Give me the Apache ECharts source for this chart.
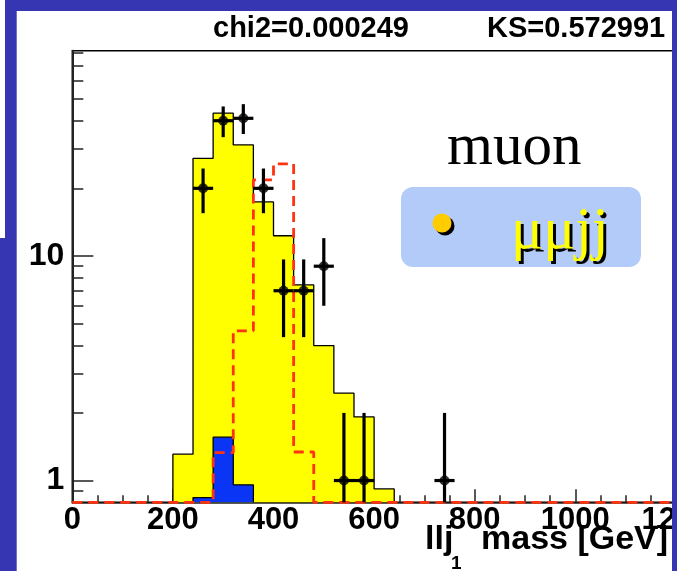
<!DOCTYPE html>
<html><head><meta charset="utf-8">
<script src="https://cdn.jsdelivr.net/npm/echarts@6/dist/echarts.min.js"></script>
<style>html,body{margin:0;padding:0;background:#3636b2;}#c{width:677px;height:571px;}</style>
</head><body><div id="c"></div>
<script>
// ---- data ----
const binEdges = [200, 240, 280, 320, 360, 400, 440, 480, 520, 560, 600, 640];
const yellowCounts = [1.31, 27.2, 43.2, 31.2, 17.4, 12.3, 7.43, 3.99, 2.45, 1.92, 0.918];
const blueEdges = [240, 280, 320, 360];
const blueCounts = [0.84, 1.56, 0.957];
const redEdges = [280, 320, 360, 400, 440, 480];
const redCounts = [1.33, 4.64, 21.8, 25.7, 1.34];
const dataX = [260, 300, 340, 380, 420, 460, 500, 540, 580, 740];
const dataY = [20, 40, 41, 20, 7, 7, 9, 1, 1, 1];
const dataHigh = [24.5, 46.3, 47.4, 24.5, 9.65, 9.65, 12, 2, 2, 2];
const dataLow = [15.5, 33.8, 34.9, 15.5, 4.35, 4.35, 6, 0.8, 0.8, 0.8];
const binHalfWidth = 20;
const yMajorTicks = [1, 10];
const yMinorTicks = [0.9, 2, 3, 4, 5, 6, 7, 8, 9, 20, 30, 40, 50, 60, 70, 80];
const Y_MIN = 0.8, Y_MAX = 82, X_MIN = 0, X_MAX = 1400, X_STEP = 200;

function stepPoints(edges, counts, floor, lead, tail) {
  const pts = [];
  if (lead !== undefined) pts.push([lead, floor]); else pts.push([edges[0], floor]);
  counts.forEach((c, i) => pts.push([edges[i], c]));
  pts.push([edges[edges.length - 1], counts[counts.length - 1]]);
  pts.push([edges[edges.length - 1], floor]);
  if (tail !== undefined) pts.push([tail, floor]);
  return pts;
}

const chart = echarts.init(document.getElementById('c'), null, {renderer: 'canvas'});
const font = 'Liberation Sans, Arial, sans-serif';
const serif = 'Liberation Serif, Times New Roman, serif';

const option = {
  backgroundColor: '#3636b2',
  animation: false,
  grid: {left: 72.3, top: 50.7, right: -99.5, height: 451.6, show: true,
         backgroundColor: '#ffffff', borderColor: '#000', borderWidth: 1.5,
         containLabel: false, outerBoundsMode: 'none'},
  xAxis: {
    type: 'value', min: X_MIN, max: X_MAX, interval: X_STEP,
    axisLine: {show: true, onZero: false, lineStyle: {color: '#222', width: 1.5}},
    axisTick: {show: true, inside: true, length: 13, lineStyle: {color: '#222', width: 1.5}},
    minorTick: {show: true, splitNumber: 4, length: 7, lineStyle: {color: '#222', width: 1.5}},
    axisLabel: {color: '#000', fontFamily: font, fontWeight: 'bold', fontSize: 31, margin: 3,
                formatter: v => String(v)},
    splitLine: {show: false}, minorSplitLine: {show: false}
  },
  yAxis: [{
    type: 'log', logBase: 10, min: Y_MIN, max: Y_MAX, position: 'left',
    axisLine: {show: true, lineStyle: {color: '#222', width: 2}},
    axisTick: {show: true, inside: true, length: 21, customValues: yMajorTicks, lineStyle: {color: '#222', width: 1.5}},
    axisLabel: {show: true, customValues: yMajorTicks, color: '#000', fontFamily: font, fontWeight: 'bold', fontSize: 32, margin: 8,
                formatter: v => String(v)},
    splitLine: {show: false}, minorTick: {show: false}
  }, {
    type: 'log', logBase: 10, min: Y_MIN, max: Y_MAX, position: 'left', offset: 0,
    axisLine: {show: false},
    axisTick: {show: true, inside: true, length: 11, customValues: yMinorTicks, lineStyle: {color: '#222', width: 1.5}},
    axisLabel: {show: false},
    splitLine: {show: false}
  }],
  series: [
    {type: 'line', name: 'yellow', step: 'end', showSymbol: false, clip: false, z: 2,
     data: stepPoints(binEdges, yellowCounts, Y_MIN),
     lineStyle: {color: '#000', width: 1.3},
     areaStyle: {color: '#ffff00', opacity: 1, origin: 'start'}},
    {type: 'line', name: 'blue', step: 'end', showSymbol: false, clip: false, z: 3,
     data: stepPoints(blueEdges, blueCounts, Y_MIN),
     lineStyle: {color: '#000', width: 1.3},
     areaStyle: {color: '#0a35f5', opacity: 1, origin: 'start'}},
    {type: 'line', name: 'red', step: 'end', showSymbol: false, clip: false, z: 4,
     data: stepPoints(redEdges, redCounts, Y_MIN, X_MIN, X_MAX),
     lineStyle: {color: '#ff3311', width: 2.8, type: [10, 6]}},
    {type: 'custom', name: 'errors', clip: false, z: 5,
     data: dataX.map((x, i) => [x, dataLow[i], dataHigh[i], dataY[i]]),
     encode: {x: 0, y: 3},
     renderItem: function (params, api) {
       const x = api.value(0), lo = api.value(1), hi = api.value(2), y = api.value(3);
       const a = api.coord([x, lo]), b = api.coord([x, hi]);
       const l = api.coord([x - binHalfWidth, y]), r = api.coord([x + binHalfWidth, y]);
       return {type: 'group', children: [
         {type: 'line', shape: {x1: a[0], y1: a[1], x2: b[0], y2: b[1]}, style: {stroke: '#000', lineWidth: 3.2}},
         {type: 'line', shape: {x1: l[0], y1: l[1], x2: r[0], y2: r[1]}, style: {stroke: '#000', lineWidth: 3.2}}
       ]};
     }},
    {type: 'scatter', name: 'data', z: 6, symbol: 'circle', symbolSize: 10,
     data: dataX.map((x, i) => [x, dataY[i]]), itemStyle: {color: '#000'}}
  ],
  graphic: [
    {type: 'rect', z: -10, shape: {x: 0, y: 0, width: 5, height: 238}, style: {fill: '#ffffff'}},
    {type: 'rect', z: -10, shape: {x: 16.7, y: 11, width: 655.3, height: 560}, style: {fill: '#ffffff'}},
    {type: 'rect', z: 100, shape: {x: 672, y: 0, width: 10, height: 571}, style: {fill: '#3636b2'}},
    {type: 'text', z: 60, style: {text: 'chi2=0.000249', x: 213, y: 29, fill: '#000', font: 'bold 29px ' + font, verticalAlign: 'middle', align: 'left'}},
    {type: 'text', z: 60, style: {text: 'KS=0.572991', x: 487, y: 29, fill: '#000', font: 'bold 29px ' + font, verticalAlign: 'middle', align: 'left'}},
    {type: 'text', z: 60, style: {text: 'muon', x: 447, y: 148.5, fill: '#000', font: '59px ' + serif, verticalAlign: 'middle', align: 'left'}},
    {type: 'rect', z: 50, shape: {x: 401, y: 187, width: 240, height: 80, r: 12}, style: {fill: '#b3cbf8'}},
    {type: 'circle', z: 61, shape: {cx: 445, cy: 226, r: 9.5}, style: {fill: '#000'}},
    {type: 'circle', z: 62, shape: {cx: 442, cy: 223, r: 9.5}, style: {fill: '#ffcc00'}},
    {type: 'text', z: 61, style: {text: 'μμjj', x: 514, y: 235.5, fill: '#000', font: '60px ' + serif, verticalAlign: 'middle', align: 'left'}},
    {type: 'text', z: 62, style: {text: 'μμjj', x: 511, y: 232.5, fill: '#ffff00', font: '60px ' + serif, verticalAlign: 'middle', align: 'left'}},
    {type: 'text', z: 60, style: {text: 'llj', x: 425, y: 540, fill: '#000', font: 'bold 34px ' + font, verticalAlign: 'middle', align: 'left'}},
    {type: 'text', z: 60, style: {text: '1', x: 451, y: 564, fill: '#000', font: 'bold 19px ' + font, verticalAlign: 'middle', align: 'left'}},
    {type: 'text', z: 60, style: {text: 'mass [GeV]', x: 481, y: 540, fill: '#000', font: 'bold 34px ' + font, verticalAlign: 'middle', align: 'left'}}
  ]
};
chart.setOption(option);
</script></body></html>
